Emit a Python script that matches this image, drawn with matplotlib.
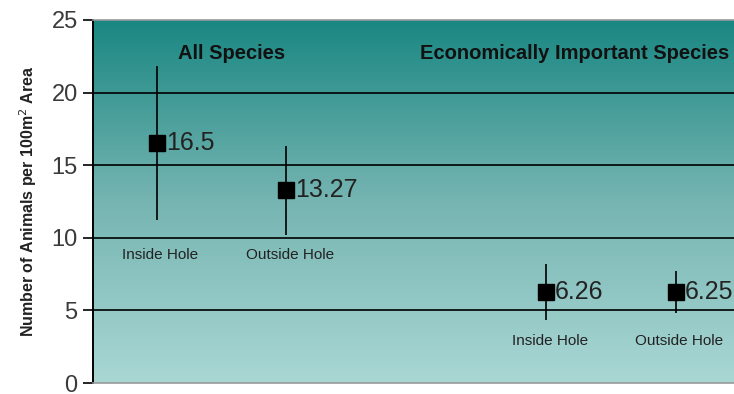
import numpy as np
import matplotlib.pyplot as plt
from matplotlib.colors import LinearSegmentedColormap

plt.rcParams['font.family'] = ['Liberation Sans', 'DejaVu Sans']

# data
xpos = [1, 2, 4, 5]
means = [16.5, 13.27, 6.26, 6.25]
err_hi = [21.85, 16.3, 8.2, 7.7]
err_lo = [11.2, 10.2, 4.35, 4.85]
value_labels = ['16.5', '13.27', '6.26', '6.25']
cat_labels = ['Inside Hole', 'Outside Hole', 'Inside Hole', 'Outside Hole']
cat_label_y = [8.8, 8.8, 2.9, 2.9]
groups = ['All Species', 'Economically Important Species']
group_x = [1.58, 4.22]
yticks = [0, 5, 10, 15, 20, 25]

fig = plt.figure(figsize=(7.34, 3.94), dpi=100)
ax = fig.add_axes([93/734, 11/394, 641/734, 363/394])

# vertical gradient background
cmap = LinearSegmentedColormap.from_list('teal', ['#a9d7d4', '#76b5b2', '#1a8782'])
grad = np.linspace(0, 1, 256).reshape(-1, 1)
ax.imshow(grad, cmap=cmap, aspect='auto', origin='lower',
          extent=[0, 1, 0, 1], transform=ax.transAxes, zorder=0)

ax.set_xlim(0.51, 5.45)
ax.set_ylim(0, 25)

for y in yticks[1:-1]:
    ax.axhline(y, color='black', lw=1.2, zorder=1)

lo = np.array(means) - np.array(err_lo)
hi = np.array(err_hi) - np.array(means)
ax.errorbar(xpos, means, yerr=[lo, hi], fmt='s', color='black', ms=11,
            elinewidth=1.2, capsize=0, zorder=3)

for x, m, t in zip(xpos, means, value_labels):
    ax.text(x + 0.07, m, t, fontsize=18, color='#222222', va='center',
            ha='left', zorder=4)

for x, y, t in zip(xpos, cat_label_y, cat_labels):
    ax.text(x + 0.03, y, t, fontsize=11, color='#222222', ha='center',
            va='center', zorder=4)

for x, t in zip(group_x, groups):
    ax.text(x, 22.7, t, fontsize=14.5, fontweight='bold', color='#111111',
            ha='center', va='center', zorder=4)

ax.set_yticks(yticks)
ax.set_yticklabels([str(v) for v in yticks], fontsize=17, color='#3a3a3a')
ax.tick_params(axis='y', direction='out', length=7, width=1.2, pad=4)
ax.set_xticks([])
ax.set_ylabel('Number of Animals per 100m$^2$ Area', fontsize=11.5,
              fontweight='bold', color='#222222', labelpad=9)

ax.spines['left'].set_color('black')
ax.spines['left'].set_linewidth(1.4)
for s in ['top', 'bottom']:
    ax.spines[s].set_color('#999999')
    ax.spines[s].set_linewidth(1.2)
ax.spines['right'].set_visible(False)

fig.savefig('out.png', dpi=100, facecolor='white')
